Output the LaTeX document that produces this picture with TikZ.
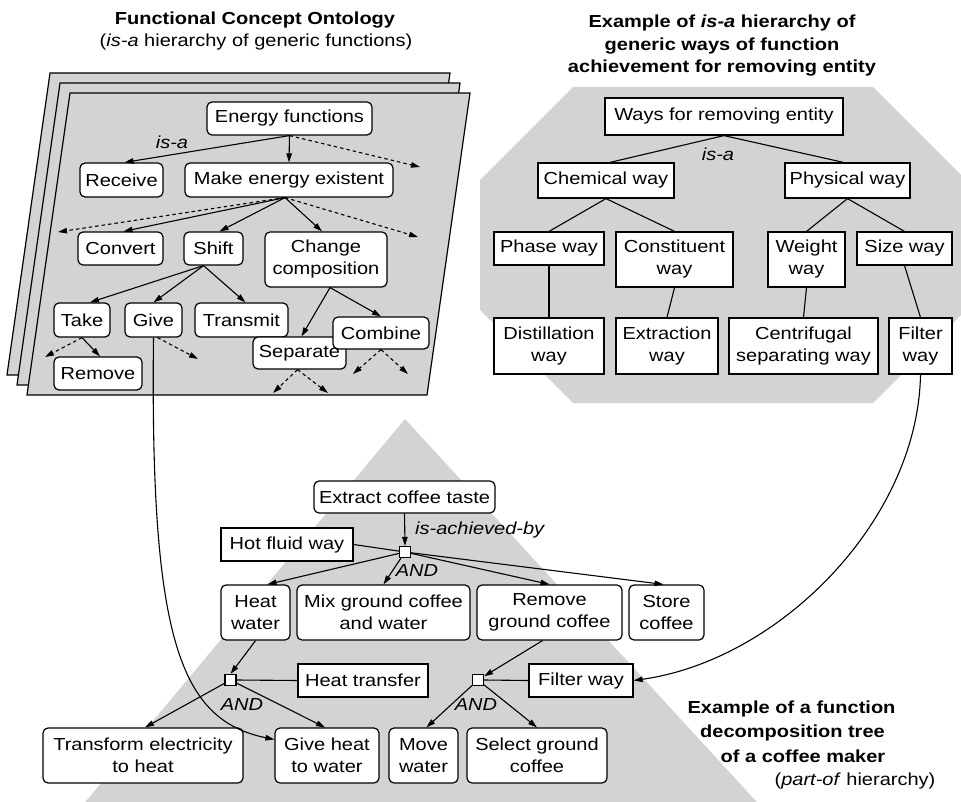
\documentclass[tikz,border=0pt]{standalone}
\usepackage{fontspec}
\setmainfont[FakeStretch=1.15]{Liberation Sans}
\usetikzlibrary{arrows.meta}
\definecolor{panelgray}{RGB}{209,211,212}

\begin{document}
\begin{tikzpicture}[x=1pt,y=-1pt,
  font=\fontsize{17.4}{22}\selectfont,
  every node/.style={inner sep=0pt, align=center},
  rbox/.style={draw, fill=white, rounded corners=5pt, line width=1.2pt},
  sbox/.style={draw, fill=white, line width=1.2pt},
  andbox/.style={draw, fill=white, line width=1.2pt, minimum size=11pt},
  wh/.style 2 args={minimum width=#1pt, minimum height=#2pt},
  link/.style={line width=1.1pt},
  arr/.style={line width=1.1pt, -{Triangle[length=9pt,width=5.5pt]}},
  dotarr/.style={arr, dash pattern=on 3.5pt off 3pt},
  lbl/.style={font=\fontsize{17.4}{22}\selectfont\itshape},
  ttl/.style={font=\fontsize{17.4}{22}\selectfont\bfseries, anchor=base},
  sub/.style={anchor=base},
]
\useasboundingbox (0,0) rectangle (961,802);

% ---------- backgrounds ----------
\begin{scope}
  \clip (0,0) rectangle (961,802);
  % octagon behind the ways hierarchy
  \fill[panelgray] (573,87) -- (873,87) -- (966,180) -- (966,310) -- (873,403)
    -- (573,403) -- (480,310) -- (480,180) -- cycle;
  % triangle behind the decomposition tree
  \fill[panelgray] (405,419) -- (766,812) -- (77,812) -- cycle;
\end{scope}
% stacked sheets of the ontology
\filldraw[fill=panelgray, draw=black, line width=1.2pt] (50,73) -- (450,73) -- (407,375) -- (7,375) -- cycle;
\filldraw[fill=panelgray, draw=black, line width=1.2pt] (60,83) -- (460,83) -- (417,385) -- (17,385) -- cycle;
\filldraw[fill=panelgray, draw=black, line width=1.2pt] (70,93) -- (470,93) -- (427,395) -- (27,395) -- cycle;

% ---------- titles ----------
\node[ttl] (t1a) at (255,25) {Functional Concept Ontology};
\node[sub] (t1b) at (256,47) {(\textit{is-a} hierarchy of generic functions)};
\node[ttl] (t2a) at (722,28) {Example of \textit{is-a} hierarchy of};
\node[ttl] (t2b) at (722,51) {generic ways of function};
\node[ttl] (t2c) at (722,73) {achievement for removing entity};
\node[ttl] (t3a) at (791.5,713) {Example of a function};
\node[ttl] (t3b) at (792.5,737) {decomposition tree};
\node[ttl] (t3c) at (803,762) {of a coffee maker};
\node[sub] (t3d) at (855,785) {(\textit{part-of} hierarchy)};

% ---------- functional concept ontology ----------
\node[rbox, wh={165}{33}] (ef) at (289.5,118.5) {Energy functions};
\node[rbox, wh={83}{34}] (rec) at (121.5,180) {Receive};
\node[rbox, wh={208}{34}] (mee) at (289,180) {Make energy existent};
\node[rbox, wh={85}{33}] (conv) at (120.5,248.5) {Convert};
\node[rbox, wh={59}{33}] (shift) at (213.5,248.5) {Shift};
\node[rbox, wh={122}{55}] (cc) at (326,259.5) {Change\\composition};
\node[rbox, wh={56}{34}] (take) at (82,320) {Take};
\node[rbox, wh={57}{34}] (give) at (153.5,320) {Give};
\node[rbox, wh={93}{34}] (trans) at (241.5,320) {Transmit};
\node[rbox, wh={93}{32}] (sep) at (299.5,353) {Separate};
\node[rbox, wh={96}{32}] (comb) at (381,333) {Combine};
\node[rbox, wh={88}{33}] (rem) at (98,373.5) {Remove};
\node[lbl] (isa1) at (172,142) {is-a};

\coordinate (efmore) at (420,167);
\coordinate (meeL) at (58,232);
\coordinate (meeR) at (418,237);
\coordinate (takeL) at (45,357);
\coordinate (giveR) at (198,359);
\coordinate (sepL) at (273,393);
\coordinate (sepR) at (328,393);
\coordinate (combL) at (353,374);
\coordinate (combR) at (408,374);

\draw[arr] (ef.south) -- ([xshift=3pt]rec.north);
\draw[arr] (ef.south) -- (mee.north);
\draw[dotarr] (ef.south) -- (efmore);
\draw[dotarr] ([xshift=-4pt]mee.south) -- (meeL);
\draw[dotarr] ([xshift=-4pt]mee.south) -- (meeR);
\draw[arr] ([xshift=-4pt]mee.south) -- ([xshift=3pt]conv.north);
\draw[arr] ([xshift=-4pt]mee.south) -- ([xshift=6pt]shift.north);
\draw[arr] ([xshift=-4pt]mee.south) -- ([xshift=-4pt]cc.north);
\draw[arr] ([xshift=-10pt]shift.south) -- ([xshift=8pt]take.north);
\draw[arr] ([xshift=-10pt]shift.south) -- (give.north);
\draw[arr] ([xshift=-10pt]shift.south) -- ([xshift=4pt]trans.north);
\draw[arr] ([xshift=4pt]cc.south) -- ([xshift=2pt]sep.north);
\draw[arr] ([xshift=4pt]cc.south) -- (comb.north);
\draw[arr] (take.south) -- ([xshift=2pt]rem.north);
\draw[dotarr] (take.south) -- (takeL);
\draw[dotarr] ([xshift=4pt]give.south) -- (giveR);
\draw[dotarr] ([xshift=-2pt]sep.south) -- (sepL);
\draw[dotarr] ([xshift=-2pt]sep.south) -- (sepR);
\draw[dotarr] (comb.south) -- (combL);
\draw[dotarr] (comb.south) -- (combR);

% ---------- ways of function achievement ----------
\node[sbox, wh={238}{37}] (ways) at (724,116.5) {Ways for removing entity};
\node[sbox, wh={136}{35}] (chem) at (606,180.5) {Chemical way};
\node[sbox, wh={125}{35}] (phys) at (847.5,180.5) {Physical way};
\node[sbox, wh={110}{33}] (phase) at (549,248.5) {Phase way};
\node[sbox, wh={117}{55}] (const) at (674.5,259.5) {Constituent\\way};
\node[sbox, wh={77}{55}] (weight) at (806.5,259.5) {Weight\\way};
\node[sbox, wh={95}{33}] (size) at (904.5,248.5) {Size way};
\node[sbox, wh={110}{56}] (dist) at (549,346) {Distillation\\way};
\node[sbox, wh={102}{56}] (extr) at (667,346) {Extraction\\way};
\node[sbox, wh={149}{56}] (centr) at (803.5,346) {Centrifugal\\separating way};
\node[sbox, wh={63}{56}] (filt) at (920.5,346) {Filter\\way};
\node[lbl] (isa2) at (718,154) {is-a};

\draw[link] (ways.south) -- ([xshift=4pt]chem.north);
\draw[link] (ways.south) -- ([xshift=-4pt]phys.north);
\draw[link] (chem.south) -- (phase.north);
\draw[link] (chem.south) -- (const.north);
\draw[link] (phys.south) -- (weight.north);
\draw[link] (phys.south) -- (size.north);
\draw[link] (phase.south) -- (dist.north);
\draw[link] (const.south) -- (extr.north);
\draw[link] (weight.south) -- (centr.north);
\draw[link] (size.south) -- (filt.north);

% ---------- function decomposition tree ----------
\node[rbox, wh={181}{32}] (ect) at (404.5,497) {Extract coffee taste};
\node[sbox, wh={132}{33}] (hfw) at (287,544.5) {Hot fluid way};
\node[andbox] (and1) at (405,552) {};
\node[rbox, wh={69}{55}] (hw) at (255.5,612.5) {Heat\\water};
\node[rbox, wh={173}{55}] (mix) at (383.5,612.5) {Mix ground coffee\\and water};
\node[rbox, wh={145}{55}] (rgc) at (549.5,612.5) {Remove\\ground coffee};
\node[rbox, wh={75}{55}] (store) at (666.5,612.5) {Store\\coffee};
\node[andbox] (and2) at (230.5,680) {};
\node[sbox, wh={130}{33}] (ht) at (363,680.5) {Heat transfer};
\node[andbox] (and3) at (478,680) {};
\node[sbox, wh={104}{33}] (fw) at (581,680.5) {Filter way};
\node[rbox, wh={200}{55}] (tre) at (143,755.5) {Transform electricity\\to heat};
\node[rbox, wh={104}{55}] (gh) at (327,755.5) {Give heat\\to water};
\node[rbox, wh={69}{55}] (mw) at (423.5,755.5) {Move\\water};
\node[rbox, wh={140}{55}] (sgc) at (537,755.5) {Select ground\\coffee};
\node[lbl, anchor=west] (iab) at (415,530) {is-achieved-by};
\node[lbl] (and1l) at (417,571) {AND};
\node[lbl] (and2l) at (242,705) {AND};
\node[lbl] (and3l) at (476,705) {AND};

\draw[arr] (ect.south) -- (and1.north);
\draw[link] (hfw.east) -- (and1);
\draw[arr] (and1) -- ([xshift=12pt]hw.north);
\draw[arr] (and1) -- (mix.north);
\draw[arr] (and1) -- (rgc.north);
\draw[arr] (and1) -- ([xshift=-3pt]store.north);
\draw[arr] (hw.south) -- (and2.north);
\draw[link] (and2.east) -- (ht.west);
\draw[arr] (and2) -- ([xshift=2pt]tre.north);
\draw[arr] (and2) -- ([xshift=-2pt]gh.north);
\draw[arr] ([xshift=-7pt]rgc.south) -- (and3);
\draw[link] (and3.east) -- (fw.west);
\draw[arr] (and3) -- ([xshift=3pt]mw.north);
\draw[arr] (and3) -- (sgc.north);

% ---------- cross links ----------
\draw[arr] (give.south) .. controls (150,640) and (180,720) .. ([yshift=16pt]gh.west);
\draw[arr] (filt.south) .. controls (918,520) and (780,660) .. (fw.east);
\end{tikzpicture}
\end{document}
